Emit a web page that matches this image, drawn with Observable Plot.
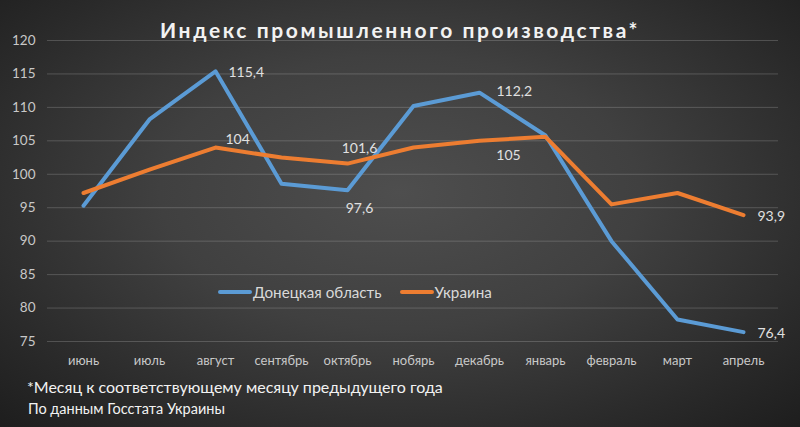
<!DOCTYPE html>
<html>
<head>
<meta charset="utf-8">
<script src="https://cdn.jsdelivr.net/npm/d3@7"></script>
<script src="https://cdn.jsdelivr.net/npm/@observablehq/plot@0.6"></script>
<style>
  html, body { margin: 0; padding: 0; background: #1c1c1c; }
  #wrap {
    position: relative; width: 800px; height: 427px; overflow: hidden;
    background: radial-gradient(ellipse 75% 80% at 50% 45%, #4e4e4e 0%, #404040 40%, #2a2a2a 75%, #1b1b1b 100%);
    font-family: Lato, "Open Sans", sans-serif;
  }
  #title {
    position: absolute; left: 0; width: 800px; top: 17px; text-align: center;
    color: #f2f2f2; font-weight: bold; font-size: 21px; letter-spacing: 2.6px;
  }
  #chart { position: absolute; left: 0; top: 0; }
  #legend {
    position: absolute; top: 283px; left: 218px; color: #d9d9d9; font-size: 15.2px;
    display: flex; align-items: center; white-space: nowrap;
  }
  #legend .sw { display: inline-block; width: 34px; height: 4px; border-radius: 2px; margin-right: 1px; }
  #legend .item { display: flex; align-items: center; }
  #note1 { position: absolute; left: 27px; top: 377px; color: #f2f2f2; font-size: 16px; white-space: nowrap; }
  #note2 { position: absolute; left: 28px; top: 400px; color: #f2f2f2; font-size: 14.5px; white-space: nowrap; }
</style>
</head>
<body>
<div id="wrap">
  <div id="chart"></div>
  <div id="title">Индекс промышленного производства*</div>
  <div id="legend"></div>
  <div id="note1">*Месяц к соответствующему месяцу предыдущего года</div>
  <div id="note2">По данным Госстата Украины</div>
</div>
<script>
// ---- data ----
const months = ["июнь", "июль", "август", "сентябрь", "октябрь", "нобярь", "декабрь", "январь", "февраль", "март", "апрель"];
const donetsk = [95.3, 108.2, 115.4, 98.6, 97.6, 110.2, 112.2, 105.8, 90.0, 78.3, 76.4];
const ukraine = [97.2, 100.7, 104, 102.5, 101.6, 104.0, 105, 105.6, 95.5, 97.2, 93.9];
const seriesNames = ["Донецкая область", "Украина"];
const yTicks = [75, 80, 85, 90, 95, 100, 105, 110, 115, 120];
const labeledMonths = ["август", "октябрь", "декабрь", "апрель"];

const colors = {"Донецкая область": "#5b9bd5", "Украина": "#ed7d31"};

const rows = [];
months.forEach((m, i) => {
  rows.push({series: seriesNames[0], month: m, value: donetsk[i]});
  rows.push({series: seriesNames[1], month: m, value: ukraine[i]});
});

const fmt = v => String(v).replace(".", ",");

// label placement (style, not data)
const placements = [
  {series: seriesNames[0], month: "август",  anchor: "start",  dx: 13, dy: 1},
  {series: seriesNames[0], month: "октябрь", anchor: "middle", dx: 12, dy: 18},
  {series: seriesNames[0], month: "декабрь", anchor: "start",  dx: 17, dy: -1},
  {series: seriesNames[0], month: "апрель",  anchor: "start",  dx: 14, dy: 1},
  {series: seriesNames[1], month: "август",  anchor: "start",  dx: 10, dy: -8},
  {series: seriesNames[1], month: "октябрь", anchor: "middle", dx: 12, dy: -15},
  {series: seriesNames[1], month: "декабрь", anchor: "middle", dx: 29, dy: 15},
  {series: seriesNames[1], month: "апрель",  anchor: "start",  dx: 14, dy: 1}
];

const labelMarks = placements.map(p =>
  Plot.text(rows.filter(r => r.series === p.series && r.month === p.month && labeledMonths.includes(r.month)), {
    x: "month", y: "value", text: d => fmt(d.value),
    textAnchor: p.anchor, dx: p.dx, dy: p.dy,
    fill: "#e0e0e0", fontSize: 14, fontFamily: "Lato, 'Open Sans', sans-serif"
  })
);

const chart = Plot.plot({
  width: 800,
  height: 375,
  marginTop: 40,
  marginBottom: 34,
  marginLeft: 47,
  marginRight: 22,
  style: {background: "transparent", fontFamily: "Lato, 'Open Sans', sans-serif", color: "#bfbfbf", overflow: "visible"},
  x: {type: "point", domain: months, padding: 0.5, label: null},
  y: {domain: [75, 120], label: null},
  marks: [
    Plot.gridY(yTicks, {stroke: "#d9d9d9", strokeOpacity: 0.22, strokeWidth: 1}),
    Plot.axisY(yTicks, {tickSize: 0, tickPadding: 12, fontSize: 13.5, fill: "#c8c8c8", label: null}),
    Plot.axisX({tickSize: 0, tickPadding: 14, fontSize: 13, fill: "#c8c8c8", label: null}),
    ...seriesNames.map(s => Plot.line(rows.filter(r => r.series === s), {
      x: "month", y: "value", stroke: colors[s], strokeWidth: 4,
      strokeLinejoin: "round", strokeLinecap: "round"
    })),
    ...labelMarks
  ]
});
document.getElementById("chart").appendChild(chart);

// legend
const legend = document.getElementById("legend");
seriesNames.forEach((s, i) => {
  const item = document.createElement("span");
  item.className = "item";
  item.style.marginRight = i === 0 ? "18px" : "0";
  item.innerHTML = `<span class="sw" style="background:${colors[s]}"></span><span>${s}</span>`;
  legend.appendChild(item);
});
</script>
</body>
</html>
